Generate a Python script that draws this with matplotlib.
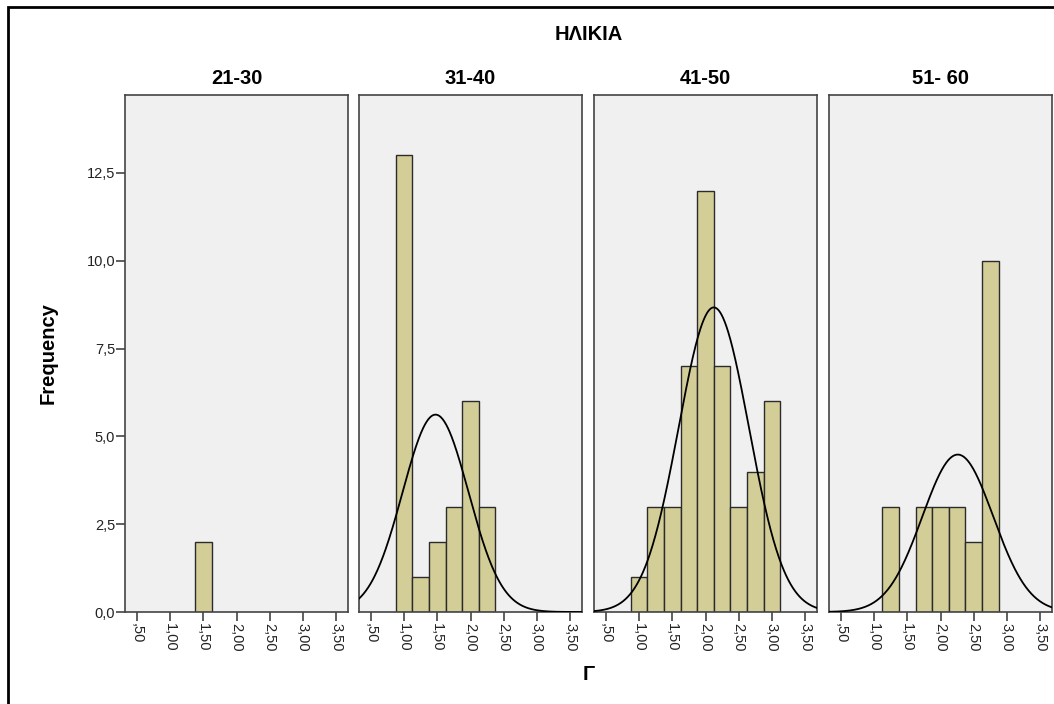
import numpy as np
import matplotlib
matplotlib.use("Agg")
import matplotlib.pyplot as plt
from matplotlib.patches import Rectangle

plt.rcParams['font.family'] = ['Liberation Sans', 'DejaVu Sans']

# ---- data ----
panel_titles = ["21-30", "31-40", "41-50", "51- 60"]
bin_width = 0.25
centers_2130 = [1.50]
counts_2130 = [2]
centers_3140 = [1.00, 1.25, 1.50, 1.75, 2.00, 2.25]
counts_3140 = [13, 1, 2, 3, 6, 3]
centers_4150 = [1.00, 1.25, 1.50, 1.75, 2.00, 2.25, 2.50, 2.75, 3.00]
counts_4150 = [1, 3, 3, 7, 12, 7, 3, 4, 6]
centers_5160 = [1.25, 1.50, 1.75, 2.00, 2.25, 2.50, 2.75]
counts_5160 = [3, 0, 3, 3, 3, 2, 10]
x_ticks = [0.5, 1.0, 1.5, 2.0, 2.5, 3.0, 3.5]
x_tick_labels = [",50", "1,00", "1,50", "2,00", "2,50", "3,00", "3,50"]
y_ticks = [0.0, 2.5, 5.0, 7.5, 10.0, 12.5]
y_tick_labels = ["0,0", "2,5", "5,0", "7,5", "10,0", "12,5"]

panels = [(centers_2130, counts_2130), (centers_3140, counts_3140),
          (centers_4150, counts_4150), (centers_5160, counts_5160)]

W, H = 1054, 704
fig = plt.figure(figsize=(W / 100, H / 100), dpi=100)
fig.patch.set_facecolor("white")

# outer border
fig.add_artist(Rectangle((8 / W, -0.1), 1.2, 1 - 7 / H + 0.1, transform=fig.transFigure,
                         fill=False, edgecolor="black", linewidth=2.0))

lefts = [125, 359, 594, 829]
pw = 223
top, bottom = 95, 612
bar_color = "#D3CE97"
edge = "#2b2b2b"

for i, (left, (cen, cnt), title) in enumerate(zip(lefts, panels, panel_titles)):
    ax = fig.add_axes([left / W, (H - bottom) / H, pw / W, (bottom - top) / H])
    ax.set_facecolor("#F0F0F0")
    ax.set_xlim(0.32, 3.68)
    ax.set_ylim(0, 14.72)
    c = np.array(cen, dtype=float)
    n = np.array(cnt, dtype=float)
    mask = n > 0
    ax.bar(c[mask], n[mask], width=bin_width, color=bar_color, edgecolor=edge,
           linewidth=1.0, zorder=2)
    N = n.sum()
    if N > 1:
        mean = (c * n).sum() / N
        sd = np.sqrt(((c - mean) ** 2 * n).sum() / (N - 1))
        if sd > 0:
            xs = np.linspace(0.32, 3.68, 400)
            ys = N * bin_width / (sd * np.sqrt(2 * np.pi)) * np.exp(-0.5 * ((xs - mean) / sd) ** 2)
            ax.plot(xs, ys, color="black", linewidth=1.3, zorder=3)
    for s in ax.spines.values():
        s.set_color("#444444")
        s.set_linewidth(1.2)
    ax.set_xticks(x_ticks)
    ax.set_xticklabels(x_tick_labels, rotation=-90, fontsize=10.5, color="#222222")
    ax.tick_params(axis="x", direction="out", length=6.5, width=1.2, color="#444444", pad=1.5)
    if i == 0:
        ax.set_yticks(y_ticks)
        ax.set_yticklabels(y_tick_labels, fontsize=10.5, color="#222222")
        ax.tick_params(axis="y", direction="out", length=6.5, width=1.2, color="#444444", pad=0.5)
    else:
        ax.set_yticks([])
    ax.set_title(title, fontsize=14.5, fontweight="bold", pad=8)

fig.text(589 / W, 1 - 35 / H, "ΗΛΙΚΙΑ", ha="center", va="center", fontsize=14.5, fontweight="bold")
fig.text(48 / W, 1 - 353 / H, "Frequency", ha="center", va="center", rotation=90,
         fontsize=14.5, fontweight="bold")
fig.text(589 / W, 1 - 675 / H, "Γ", ha="center", va="center", fontsize=14.5, fontweight="bold")

fig.savefig("out.png", dpi=100)
